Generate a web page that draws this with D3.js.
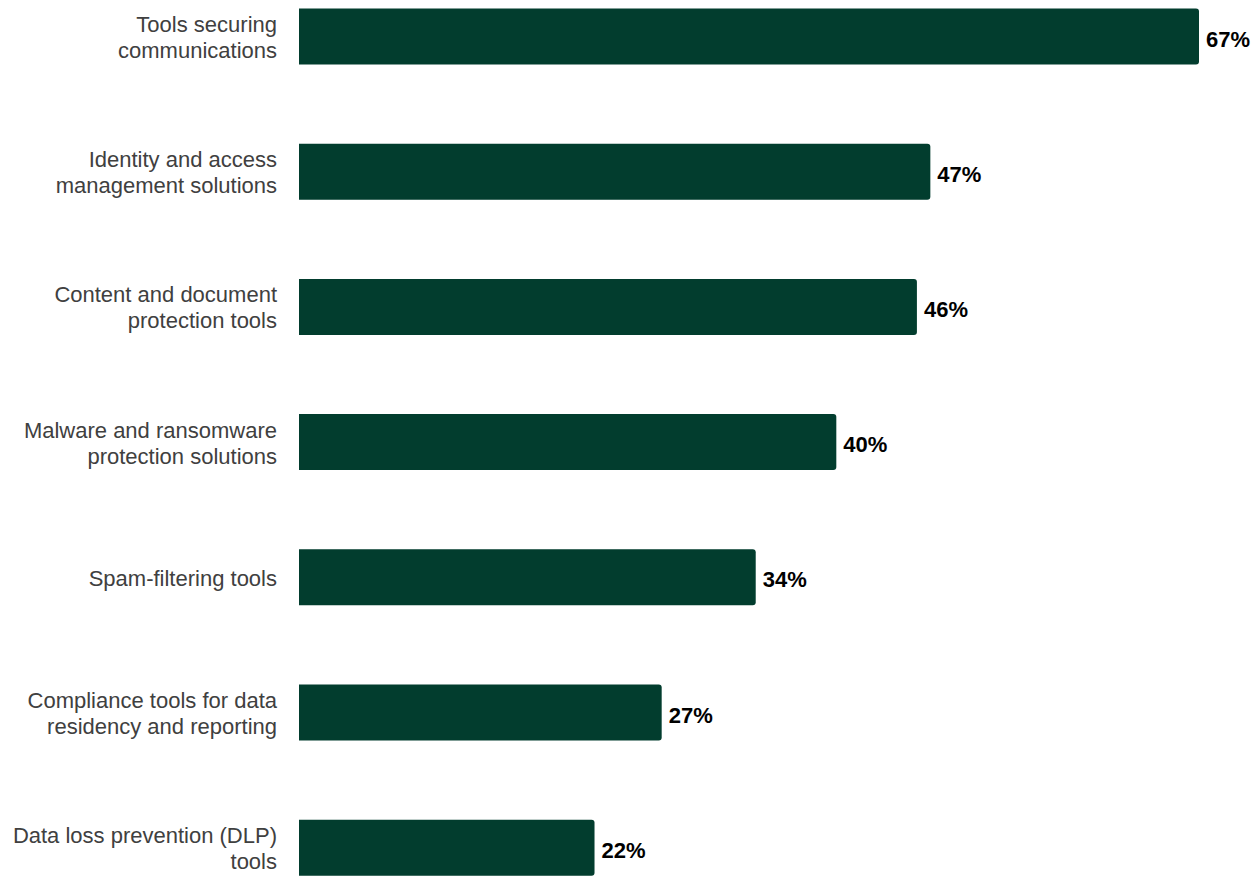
<!DOCTYPE html>
<html>
<head>
<meta charset="utf-8">
<script src="https://cdn.jsdelivr.net/npm/d3@7"></script>
<style>
  html, body { margin: 0; padding: 0; background: #fff; }
  svg { display: block; }
</style>
</head>
<body>
<svg id="chart" width="1258" height="876"></svg>
<script>
// Survey categories (each label split across display lines) and their shares in percent
const categories = [
  ["Tools securing", "communications"],
  ["Identity and access", "management solutions"],
  ["Content and document", "protection tools"],
  ["Malware and ransomware", "protection solutions"],
  ["Spam-filtering tools"],
  ["Compliance tools for data", "residency and reporting"],
  ["Data loss prevention (DLP)", "tools"]
];
const values = [67, 47, 46, 40, 34, 27, 22];

const W = 1258, H = 876;
const leftX = 299;
const barColor = "#023d2e";
const fontSize = 22;

const svg = d3.select("#chart");

const keys = categories.map(d => d.join(" "));

const x = d3.scaleLinear()
  .domain([0, 67])
  .range([leftX, 1199]);

// 135px rows with 56px bars; the first bar starts near the top edge
const step = 135.2, barH = 56, gap = step - barH, firstY = 8.5;
const y = d3.scaleBand()
  .domain(keys)
  .range([firstY - gap / 2, firstY - gap / 2 + step * keys.length])
  .paddingInner(gap / step)
  .paddingOuter(gap / 2 / step);

const bw = y.bandwidth();
const r = 3;

// bar shape: square on the left, rounded on the right
function barPath(x0, x1, y0, h) {
  return `M${x0},${y0}H${x1 - r}Q${x1},${y0} ${x1},${y0 + r}` +
         `V${y0 + h - r}Q${x1},${y0 + h} ${x1 - r},${y0 + h}H${x0}Z`;
}

const rows = svg.selectAll("g.row")
  .data(keys.map((k, i) => ({ key: k, lines: categories[i], value: values[i] })))
  .join("g")
  .attr("class", "row");

rows.append("path")
  .attr("fill", barColor)
  .attr("d", d => barPath(x(0), x(d.value), y(d.key), bw));

rows.append("text")
  .attr("x", d => x(d.value) + 7)
  .attr("y", d => y(d.key) + bw / 2)
  .attr("dy", "0.46em")
  .attr("font-family", "Liberation Sans, Arial, sans-serif")
  .attr("font-size", fontSize)
  .attr("font-weight", "bold")
  .attr("fill", "#000")
  .text(d => d.value + "%");

const lineH = 26;
rows.append("text")
  .attr("text-anchor", "end")
  .attr("font-family", "Liberation Sans, Arial, sans-serif")
  .attr("font-size", fontSize)
  .attr("fill", "#404040")
  .each(function(d) {
    const t = d3.select(this);
    const cy = y(d.key) + bw / 2;
    const n = d.lines.length;
    d.lines.forEach((ln, i) => {
      t.append("tspan")
        .attr("x", 277)
        .attr("y", cy + (i - (n - 1) / 2) * lineH)
        .attr("dy", "0.39em")
        .text(ln);
    });
  });
</script>
</body>
</html>
